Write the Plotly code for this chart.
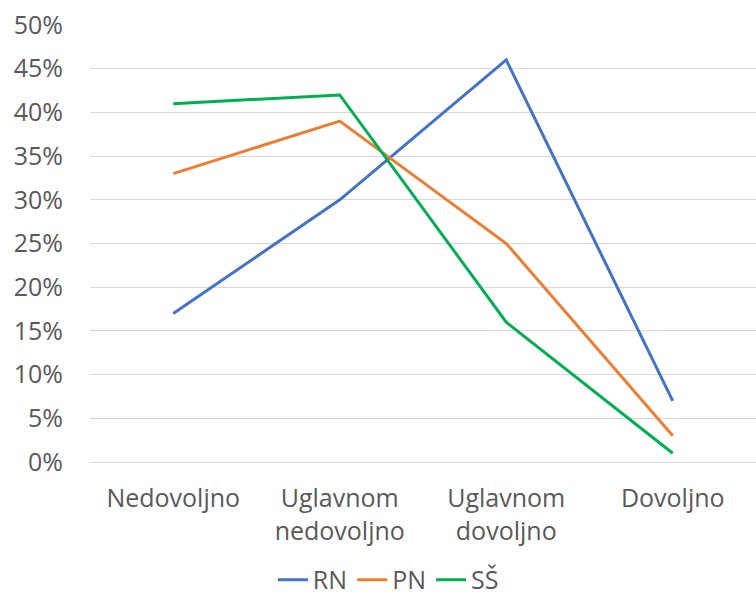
import plotly.graph_objects as go

categories = ["Nedovoljno", "Uglavnom<br>nedovoljno", "Uglavnom<br>dovoljno", "Dovoljno"]
rn = [0.17, 0.30, 0.46, 0.07]
pn = [0.33, 0.39, 0.25, 0.03]
ss = [0.41, 0.42, 0.16, 0.01]

series = [("RN", rn, "#4472C4"), ("PN", pn, "#ED7D31"), ("SŠ", ss, "#00B050")]

fig = go.Figure()
for name, vals, color in series:
    fig.add_trace(go.Scatter(
        x=categories, y=vals, name=name, mode="lines",
        line=dict(color=color, width=3),
    ))

font_family = "Open Sans, Noto Sans, sans-serif"
fig.update_layout(
    width=756, height=600,
    margin=dict(l=90, r=0, t=25, b=138, autoexpand=False),
    plot_bgcolor="white", paper_bgcolor="white",
    font=dict(family=font_family, size=25, color="#595959"),
    showlegend=True,
    legend=dict(orientation="h", x=0.448, xanchor="center", y=-0.27, yanchor="middle",
                font=dict(size=25, color="#595959"), itemwidth=30, tracegroupgap=0),
)
fig.update_xaxes(
    showgrid=False, showline=True, linecolor="#D9D9D9", linewidth=1,
    ticks="", tickfont=dict(size=25), range=[-0.5, 3.5], ticklabelstandoff=14,
    automargin=False,
)
fig.update_yaxes(
    range=[0, 0.5], dtick=0.05, tickformat=".0%",
    showgrid=True, gridcolor="#D9D9D9", gridwidth=1,
    zeroline=False, showline=False, ticks="",
    tickfont=dict(size=25), ticklabelstandoff=26, automargin=False,
)
fig.write_html("out.html")
